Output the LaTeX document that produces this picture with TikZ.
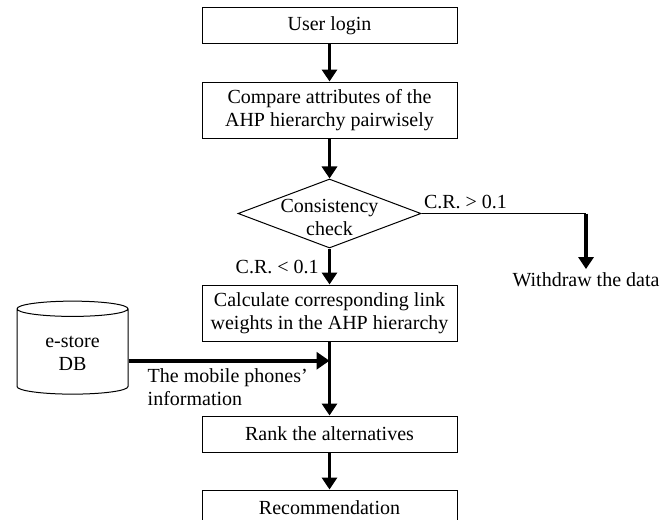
\documentclass[tikz,border=0pt]{standalone}
\usepackage{fontspec}
\setmainfont{Liberation Serif}
\usetikzlibrary{arrows.meta,positioning,shapes.geometric,calc}

\begin{document}
\begin{tikzpicture}[
  x=1pt, y=1pt,
  node distance=37pt,
  every node/.style={font=\fontsize{20}{23}\selectfont},
  box/.style={draw, line width=1pt, minimum width=255pt, minimum height=36pt, inner sep=2pt, align=center},
  tallbox/.style={box, minimum height=56pt},
  decision/.style={draw, diamond, line width=1pt, minimum width=183pt, minimum height=69pt, inner sep=0pt},
  store/.style={draw, cylinder, shape border rotate=90, aspect=0.25, line width=1pt, minimum width=111pt, minimum height=93pt, align=center},
  flow/.style={line width=3pt, -{Triangle[width=15pt,length=12pt]}},
  plain/.style={line width=1pt},
]
  \useasboundingbox (0,0) rectangle (668,-519);
  % main column
  \node[box] (login) at (329.5,-26) {User login};
  \node[tallbox, below=of login] (cmp) {Compare attributes of the\\AHP hierarchy pairwisely};
  \node[decision, below=40pt of cmp, label={[align=center, yshift=-4pt]center:Consistency\\check}] (chk) {};
  \node[tallbox, below=36pt of chk] (calc) {Calculate corresponding link\\weights in the AHP hierarchy};
  \node[box, below=74pt of calc] (rank) {Rank the alternatives};
  \node[box, below=of rank] (rec) {Recommendation};

  % side nodes
  \node[store] (db) at (72.5,-353) {e-store\\DB};
  \coordinate (turn) at (chk.east -| 586,0);
  \node[below=73pt of turn, anchor=base] (wd) {Withdraw the data};
  \coordinate (join) at ($(calc.south)!0.26!(rank.north)$);
  \coordinate (src) at (db.east |- join);
  \node[below right=8pt and 19pt of src, align=left, inner sep=0pt] (info) {The mobile phones'\\information};

  \draw[flow] (login) -- (cmp);
  \draw[flow] (cmp) -- (chk);
  \draw[flow] (chk.south) -- node[anchor=east, xshift=-6pt]{C.R. < 0.1} (calc);
  \draw[plain] (chk.east) -- node[pos=0, anchor=south west, inner sep=2pt, yshift=2pt]{C.R. > 0.1} (turn);
  \draw[flow, line width=3.5pt] (turn) -- (wd);
  \draw[flow, line width=4pt, -{Triangle[width=17pt,length=13pt]}] (src) -- (join);
  \draw[flow] (calc) -- (rank);
  \draw[flow] (rank) -- (rec);
\end{tikzpicture}
\end{document}
